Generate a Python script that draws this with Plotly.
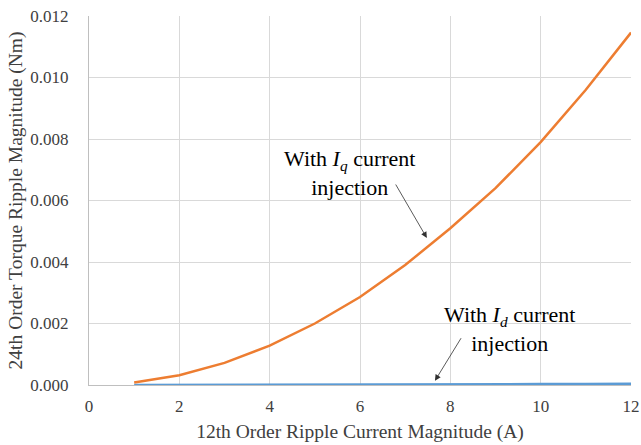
import plotly.graph_objects as go

# 12th-order ripple current magnitude (A)
current_a = [1, 2, 3, 4, 5, 6, 7, 8, 9, 10, 11, 12]
# 24th-order torque ripple magnitude (Nm)
torque_iq = [0.00008, 0.00032, 0.00072, 0.00128, 0.0020, 0.00286,
             0.0039, 0.0051, 0.0064, 0.0079, 0.0096, 0.01146]
torque_id = [0.000001, 0.000002, 0.000003, 0.000005, 0.000008, 0.000011,
             0.000015, 0.000019, 0.000024, 0.00003, 0.000036, 0.000043]

x_ticks = [0, 2, 4, 6, 8, 10, 12]
y_ticks = [0.000, 0.002, 0.004, 0.006, 0.008, 0.010, 0.012]

FONT = "Liberation Serif"
TEXT_GREY = "#404040"

fig = go.Figure()
fig.add_trace(go.Scatter(x=current_a, y=torque_id, mode="lines",
                         line=dict(color="#5B9BD5", width=2.5), name="Id"))
fig.add_trace(go.Scatter(x=current_a, y=torque_iq, mode="lines",
                         line=dict(color="#ED7D31", width=2.5), name="Iq"))

label_font = dict(family=FONT, size=22, color="#000000")
arrow_style = dict(showarrow=True, arrowhead=2, arrowsize=1.5, arrowwidth=0.8,
                   arrowcolor="#303030", axref="pixel", ayref="pixel", text="")

# Iq label and its pointer
fig.add_annotation(x=5.76, y=0.00688, xref="x", yref="y",
                   text="With <i>I<sub>q</sub></i> current<br>injection",
                   showarrow=False, font=label_font,
                   xanchor="center", yanchor="middle")
fig.add_annotation(x=7.48, y=0.00478, xref="x", yref="y",
                   ax=-32, ay=-55, **arrow_style)

# Id label and its pointer
fig.add_annotation(x=9.31, y=0.00181, xref="x", yref="y",
                   text="With <i>I<sub>d</sub></i> current<br>injection",
                   showarrow=False, font=label_font,
                   xanchor="center", yanchor="middle")
fig.add_annotation(x=7.66, y=0.00014, xref="x", yref="y",
                   ax=27, ay=-44, **arrow_style)

fig.update_layout(
    width=641, height=445,
    margin=dict(l=89, r=10, t=16, b=60),
    paper_bgcolor="white", plot_bgcolor="white",
    showlegend=False,
    font=dict(family=FONT, size=17, color=TEXT_GREY),
    xaxis=dict(range=[0, 12], tickvals=x_ticks, ticktext=[str(v) for v in x_ticks],
               automargin=False,
               showgrid=True, gridcolor="#D9D9D9", gridwidth=1,
               showline=True, linecolor="#BFBFBF", linewidth=1,
               zeroline=False, ticks="", ticklabelstandoff=6,
               tickfont=dict(family=FONT, size=17, color=TEXT_GREY),
               title=dict(text="12th Order Ripple Current Magnitude (A)",
                          font=dict(family=FONT, size=19.5, color=TEXT_GREY),
                          standoff=8)),
    yaxis=dict(range=[0, 0.012], tickvals=y_ticks,
               ticktext=[f"{v:.3f}" for v in y_ticks],
               automargin=False,
               showgrid=True, gridcolor="#D9D9D9", gridwidth=1,
               showline=True, linecolor="#BFBFBF", linewidth=1,
               zeroline=False, ticks="", ticklabelstandoff=16,
               tickfont=dict(family=FONT, size=17, color=TEXT_GREY),
               title=dict(text="24th Order Torque Ripple Magnitude (Nm)",
                          font=dict(family=FONT, size=19.5, color=TEXT_GREY),
                          standoff=2)),
)

fig.write_html("out.html")
